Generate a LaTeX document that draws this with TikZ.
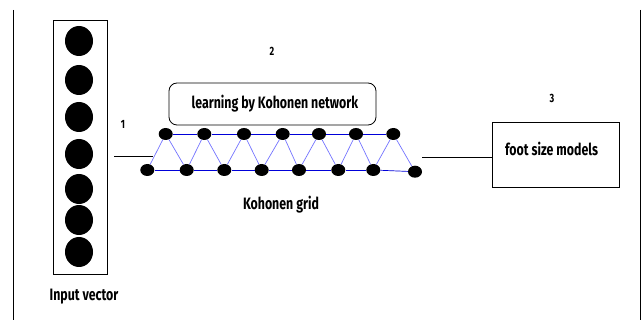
\documentclass[tikz,border=0pt]{standalone}
\usepackage{fontspec}
\newfontfamily\agency{Fira Sans}[FakeStretch=0.75]
\usetikzlibrary{shapes.geometric}
\tikzset{
  x=1pt,y=-1pt,
  invec/.style={ellipse,fill=black,minimum width=28pt,minimum height=30pt,inner sep=0pt},
  gnode/.style={ellipse,fill=black,minimum width=14pt,minimum height=12pt,inner sep=0pt},
  hlink/.style={draw=blue!85!black,line width=0.7pt},
  dlink/.style={draw=blue!55!white,line width=0.7pt},
  lbl/.style={font=\agency\bfseries\fontsize{16.5}{18}\selectfont,inner sep=0pt},
  num/.style={font=\agency\bfseries\fontsize{12}{14}\selectfont,inner sep=0pt},
  plain/.style={draw=black,line width=0.8pt}
}
\begin{document}
\begin{tikzpicture}
\useasboundingbox (0,0) rectangle (641,320);
% frame side lines
\draw[plain] (13,10) -- (13,320);
\draw[plain] (640,10) -- (640,320);
% input vector
\node[draw,line width=0.8pt,minimum width=54pt,minimum height=254pt,inner sep=0pt] (inbox) at (80,147) {};
\foreach \i/\y in {1/41,2/80,3/117,4/154,5/189,6/220,7/252}
  \node[invec] (in\i) at (79,\y) {};
\node[lbl] (inlbl) at (84,297) {Input vector};
% numbers
\node[num] (n1) at (123,124) {1};
\node[num] (n2) at (272,51) {2};
\node[num] (n3) at (552,98) {3};
% learning box
\node[draw,line width=0.8pt,rounded corners=8pt,minimum width=207pt,minimum height=42pt,inner sep=0pt] (learn) at (272.5,104) {};
\node[lbl] (learntxt) at (275,104) {learning by Kohonen network};
% grid nodes
\foreach \i/\x in {1/165.7,2/204.3,3/244,4/282.7,5/319,6/356,7/393.3}
  \node[gnode] (t\i) at (\x,134) {};
\foreach \i/\x/\y in {1/147.3/170,2/186.7/170,3/224.3/170,4/261.7/170,5/299/170,6/338.3/170,7/373.3/170,8/415/171.7}
  \node[gnode] (b\i) at (\x,\y) {};
% grid links
\foreach \i [evaluate=\i as \j using int(\i+1)] in {1,...,6}
  \draw[hlink] (t\i) -- (t\j);
\foreach \i [evaluate=\i as \j using int(\i+1)] in {1,...,7}
  \draw[hlink] (b\i) -- (b\j);
\foreach \i [evaluate=\i as \j using int(\i+1)] in {1,...,7}{
  \draw[dlink] (t\i) -- (b\i);
  \draw[dlink] (t\i) -- (b\j);
}
\node[lbl] (gridlbl) at (281,205) {Kohonen grid};
% connectors
\coordinate (ina) at (114,156);
\coordinate (inb) at (153,156);
\draw[plain] (ina) -- (inb);
\coordinate (outa) at (422,157);
\node[draw,line width=0.8pt,minimum width=127pt,minimum height=65pt,inner sep=0pt] (foot) at (555.5,154.8) {};
\node[lbl,anchor=west] (foottxt) at (505,149) {foot size models};
\draw[plain] (outa) -- (outa -| foot.west);
\end{tikzpicture}
\end{document}
